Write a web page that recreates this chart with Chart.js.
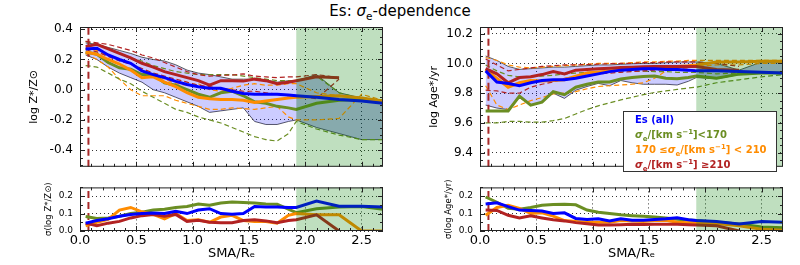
<!DOCTYPE html>
<html>
<head>
<meta charset="utf-8">
<script src="https://cdn.jsdelivr.net/npm/chart.js@4.4.1/dist/chart.umd.min.js"></script>
<style>
  body { margin: 0; background: #fff; width: 800px; height: 265px; overflow: hidden; position: relative; font-family: "DejaVu Sans"; }
  canvas { position: absolute; }
  sub, sup { font-size: 70%; line-height: 0; }
  #title { position: absolute; top: 2px; left: 0; width: 800px; text-align: center; font-size: 15px; line-height: 18px; }
  #legend { position: absolute; left: 623px; top: 111px; width: 141px; height: 59px; padding-left: 11px; border: 1px solid #333; background: #fff; font-weight: bold; font-size: 10px; line-height: 15px; white-space: nowrap; }
</style>
</head>
<body>
<div id="title">Es: <i>σ</i><sub>e</sub>-dependence</div>
<canvas id="zTop" width="400" height="181" style="left:0;top:0"></canvas>
<canvas id="zSig" width="400" height="90" style="left:0;top:175px"></canvas>
<canvas id="ageTop" width="400" height="181" style="left:400px;top:0"></canvas>
<canvas id="ageSig" width="400" height="90" style="left:400px;top:175px"></canvas>
<div id="legend">
  <div style="color:#0000ff">Es (all)</div>
  <div style="color:#6b8e23"><i>σ</i><sub>e</sub>/[km s<sup>−1</sup>]&lt;170</div>
  <div style="color:#ff8c00">170 ≤<i>σ</i><sub>e</sub>/[km s<sup>−1</sup>] &lt; 210</div>
  <div style="color:#b22222"><i>σ</i><sub>e</sub>/[km s<sup>−1</sup>] ≥210</div>
</div>
<script>
// radial bins (SMA/Re)
const sma = [0.05, 0.15, 0.25, 0.35, 0.45, 0.55, 0.65, 0.75, 0.85, 0.95, 1.05, 1.15, 1.25, 1.35, 1.45, 1.55, 1.65, 1.75, 1.85, 1.92, 2.1, 2.3, 2.5, 2.69];
const smaTicks = [0, 0.5, 1, 1.5, 2, 2.5];
const zTicks = [-0.4, -0.2, 0, 0.2, 0.4];
const ageTicks = [9.4, 9.6, 9.8, 10.0, 10.2];
const sigmaTicks = [0, 0.1, 0.2];
const psfSma = 0.075;
const spanStart = 1.92;

// log Z*/Zsun
const blueZ = [0.27, 0.275, 0.23, 0.2, 0.175, 0.125, 0.1, 0.08, 0.055, 0.035, 0.02, 0.01, 0.01, -0.01, -0.025, -0.03, -0.03, -0.03, -0.035, -0.04, -0.05, -0.065, -0.075, -0.09];
const redZ = [0.285, 0.3, 0.27, 0.24, 0.21, 0.175, 0.15, 0.12, 0.1, 0.08, 0.06, 0.03, 0.06, 0.06, 0.057, 0.07, 0.06, 0.04, 0.05, 0.06, 0.085, 0.08, null, null];
const greenZ = [0.25, 0.235, 0.18, 0.145, 0.135, 0.1, 0.1, 0.045, 0.03, 0.0, -0.03, -0.05, -0.02, -0.01, -0.04, -0.08, -0.09, -0.11, -0.12, -0.13, -0.09, -0.07, -0.065, -0.075];
const orangeZ = [0.25, 0.235, 0.2, 0.17, 0.13, 0.08, 0.085, 0.05, 0.02, -0.02, -0.05, -0.06, -0.065, -0.065, -0.07, -0.085, -0.075, -0.065, -0.055, -0.05, -0.045, -0.04, -0.055, -0.075];
const bandUpZ = [0.31, 0.3, 0.28, 0.26, 0.24, 0.215, 0.2, 0.19, 0.165, 0.13, 0.11, 0.1, 0.085, 0.07, 0.07, 0.07, 0.065, 0.05, 0.06, 0.06, 0.1, -0.02, -0.055, -0.07];
const bandLoZ = [0.23, 0.2, 0.15, 0.11, 0.08, 0.05, 0.0, -0.02, -0.05, -0.08, -0.11, -0.15, -0.14, -0.13, -0.12, -0.21, -0.23, -0.23, -0.21, -0.2, -0.25, -0.29, -0.33, -0.33];
const redDashUpZ = [0.32, 0.31, 0.3, 0.28, 0.26, 0.23, 0.21, 0.18, 0.15, 0.12, 0.1, 0.09, 0.095, 0.097, 0.105, 0.09, 0.085, 0.08, 0.085, 0.085, 0.1, 0.08, null, null];
const redDashLoZ = [0.27, 0.25, 0.22, 0.19, 0.17, 0.14, 0.11, 0.09, 0.07, 0.05, 0.03, 0.02, 0.01, 0.0, -0.01, -0.01, -0.02, -0.03, -0.04, -0.04, -0.06, 0.07, null, null];
const greenDashUpZ = [0.32, 0.3, 0.27, 0.24, 0.21, 0.19, 0.16, 0.14, 0.12, 0.11, 0.1, 0.1, 0.1, 0.1, 0.09, 0.08, 0.07, 0.06, 0.06, 0.06, 0.09, -0.02, -0.06, -0.07];
const greenDashLoZ = [0.16, 0.15, 0.11, 0.07, 0.04, -0.01, -0.05, -0.09, -0.13, -0.15, -0.18, -0.2, -0.22, -0.25, -0.28, -0.31, -0.33, -0.34, -0.29, -0.21, -0.26, -0.3, -0.33, -0.33];
const orangeDashUpZ = [0.27, 0.26, 0.22, 0.2, 0.17, 0.13, 0.1, 0.07, 0.04, 0.03, 0.04, 0.0, -0.01, 0.01, 0.03, 0.04, 0.03, 0.03, 0.04, 0.04, -0.02, -0.04, -0.05, -0.07];
const orangeDashLoZ = [0.24, 0.2, 0.15, 0.07, 0.0, -0.04, -0.04, -0.04, -0.07, -0.09, -0.11, -0.13, -0.13, -0.12, -0.125, -0.13, -0.12, -0.11, -0.18, -0.2, -0.2, -0.19, -0.03, -0.07];

// log Age*/yr
const blueAge = [9.95, 9.875, 9.865, 9.85, 9.87, 9.885, 9.89, 9.89, 9.9, 9.915, 9.93, 9.945, 9.955, 9.96, 9.965, 9.965, 9.96, 9.96, 9.955, 9.95, 9.95, 9.945, 9.94, 9.935];
const redAge = [9.965, 9.93, 9.87, 9.905, 9.91, 9.925, 9.945, 9.93, 9.955, 9.96, 9.965, 9.968, 9.972, 9.975, 9.978, 9.98, 9.98, 9.98, 9.98, 9.98, 9.96, 9.955, null, null];
const orangeAge = [9.96, 9.9, 9.84, 9.87, 9.885, 9.882, 9.885, 9.89, 9.915, 9.935, 9.943, 9.95, 9.958, 9.965, 9.968, 9.972, 9.975, 9.98, 9.985, 9.99, 10.01, 10.01, 10.015, 10.015];
const greenAge = [9.68, 9.68, 9.68, 9.78, 9.72, 9.74, 9.81, 9.79, 9.84, 9.86, 9.876, 9.876, 9.895, 9.905, 9.912, 9.915, 9.9, 9.897, 9.905, 9.915, 9.9, 9.928, 9.935, 9.935];
const bandUpAge = [10.05, 10.02, 9.98, 9.96, 9.965, 9.97, 9.975, 9.975, 9.98, 9.985, 9.99, 9.99, 9.994, 9.998, 10.0, 10.0, 10.005, 10.01, 10.01, 10.01, 10.0, 9.955, 10.01, 10.01];
const bandLoAge = [9.72, 9.7, 9.69, 9.77, 9.72, 9.74, 9.8, 9.765, 9.82, 9.845, 9.866, 9.85, 9.885, 9.87, 9.86, 9.86, 9.86, 9.855, 9.88, 9.905, 9.897, 9.925, 9.935, 9.938];
const redDashUpAge = [10.03, 9.99, 9.95, 9.96, 9.97, 9.98, 9.985, 9.99, 9.99, 9.993, 9.995, 9.998, 10.0, 10.0, 10.005, 10.005, 10.01, 10.01, 10.01, 10.01, 10.0, 9.98, null, null];
const redDashLoAge = [9.82, 9.815, 9.8, 9.8, 9.84, 9.86, 9.875, 9.9, 9.91, 9.92, 9.93, 9.935, 9.94, 9.945, 9.95, 9.955, 9.96, 9.96, 9.96, 9.955, 9.95, 9.94, null, null];
const greenDashUpAge = [9.99, 9.95, 9.92, 9.91, 9.91, 9.915, 9.92, 9.93, 9.935, 9.94, 9.945, 9.95, 9.95, 9.95, 9.948, 9.945, 9.945, 9.94, 9.94, 9.94, 9.93, 9.935, 9.94, 9.94];
const greenDashLoAge = [9.6, 9.6, 9.61, 9.61, 9.605, 9.605, 9.615, 9.63, 9.66, 9.69, 9.715, 9.735, 9.755, 9.772, 9.79, 9.805, 9.815, 9.825, 9.835, 9.84, 9.87, 9.89, 9.91, 9.925];
const orangeDashUpAge = [10.04, 10.02, 9.99, 9.975, 9.97, 9.975, 9.98, 9.985, 9.99, 9.995, 10.0, 10.0, 10.0, 10.005, 10.01, 10.01, 10.015, 10.015, 10.02, 10.02, 10.02, 10.02, 10.02, 10.02];
const orangeDashLoAge = [9.85, 9.72, 9.69, 9.72, 9.75, 9.77, 9.795, 9.8, 9.81, 9.83, 9.845, 9.85, 9.855, 9.86, 9.87, 9.9, 9.95, 9.965, 9.97, 9.98, 9.99, 9.99, 10.0, 10.0];

// scatter sigma(log Z), sigma(log Age)
const blueSZ = [0.045, 0.06, 0.07, 0.085, 0.095, 0.1, 0.103, 0.1, 0.113, 0.1, 0.12, 0.128, 0.1, 0.096, 0.1, 0.14, 0.138, 0.137, 0.135, 0.135, 0.172, 0.142, 0.142, 0.137];
const greenSZ = [0.083, 0.072, 0.075, 0.085, 0.1, 0.108, 0.12, 0.125, 0.135, 0.14, 0.155, 0.148, 0.16, 0.166, 0.163, 0.16, 0.155, 0.153, 0.125, 0.105, 0.128, 0.137, 0.141, 0.125];
const orangeSZ = [0.03, 0.05, 0.066, 0.12, 0.135, 0.11, 0.095, 0.07, 0.1, 0.06, 0.065, 0.05, 0.08, 0.09, 0.06, 0.055, 0.055, 0.045, 0.09, 0.1, 0.093, 0.093, 0.0, 0.0];
const redSZ = [0.045, 0.03, 0.045, 0.055, 0.075, 0.088, 0.095, 0.085, 0.095, 0.055, 0.062, 0.05, 0.047, 0.047, 0.06, 0.064, 0.058, 0.047, 0.06, 0.065, 0.093, 0.0, null, null];
const blueSA = [0.155, 0.162, 0.14, 0.12, 0.118, 0.115, 0.1, 0.104, 0.072, 0.066, 0.07, 0.058, 0.07, 0.062, 0.062, 0.066, 0.07, 0.076, 0.065, 0.06, 0.055, 0.04, 0.055, 0.05];
const greenSA = [0.195, 0.165, 0.13, 0.125, 0.135, 0.148, 0.152, 0.153, 0.15, 0.12, 0.108, 0.1, 0.093, 0.088, 0.084, 0.08, 0.075, 0.068, 0.063, 0.06, 0.05, 0.04, 0.023, 0.018];
const orangeSA = [0.09, 0.135, 0.148, 0.13, 0.1, 0.104, 0.085, 0.06, 0.055, 0.05, 0.05, 0.05, 0.06, 0.058, 0.055, 0.06, 0.062, 0.05, 0.048, 0.047, 0.043, 0.03, 0.01, 0.005];
const redSA = [0.12, 0.118, 0.09, 0.075, 0.087, 0.075, 0.064, 0.058, 0.048, 0.042, 0.035, 0.034, 0.036, 0.039, 0.037, 0.038, 0.039, 0.038, 0.036, 0.035, 0.03, 0.0, null, null];

const BLUE = "#0000ff", GREEN = "#6b8e23", ORANGE = "#ff8c00", RED = "#b22222";
const X_MAX = 2.69;

Chart.defaults.font.family = "DejaVu Sans";
Chart.defaults.color = "#000";
Chart.defaults.animation = false;

function pts(ys) {
  return sma.map((x, i) => ({ x, y: ys[i] }));
}
// same points, only where the bin is inside the shaded outer region
function outerPts(ys) {
  return sma.map((x, i) => ({ x, y: x >= spanStart ? ys[i] : null }));
}
function solid(ys, color, order) {
  return { data: pts(ys), borderColor: color, borderWidth: 3, pointRadius: 0, fill: false, order };
}
function dashed(ys, color) {
  return { data: pts(ys), borderColor: color, borderWidth: 1.2, borderDash: [5, 3], pointRadius: 0, fill: false, order: 8 };
}
function psfLine(yMin, yMax) {
  return {
    data: [{ x: psfSma, y: yMin }, { x: psfSma, y: yMax }],
    borderColor: "#a82828", borderWidth: 2, borderDash: [7, 4], pointRadius: 0, fill: false, order: 6,
  };
}

// green span, frame and inward ticks (matplotlib look)
const frameAndSpan = {
  id: "frameAndSpan",
  afterDatasetsDraw(chart, args, o) {
    const { ctx, chartArea: a, scales: { x, y } } = chart;
    ctx.save();
    const x0 = x.getPixelForValue(spanStart);
    ctx.fillStyle = "rgba(0,128,0,0.25)";
    ctx.fillRect(x0, a.top, a.right - x0, a.bottom - a.top);

    ctx.strokeStyle = "#222";
    ctx.lineWidth = 1;
    ctx.beginPath();
    for (let i = 0; i * o.xMinor <= x.max + 1e-9; i++) {
      const len = i % o.xEvery === 0 ? 5 : 3;
      const px = Math.round(x.getPixelForValue(i * o.xMinor)) + 0.5;
      ctx.moveTo(px, a.bottom); ctx.lineTo(px, a.bottom - len);
      ctx.moveTo(px, a.top); ctx.lineTo(px, a.top + len);
    }
    for (let i = Math.ceil(y.min / o.yMinor - 1e-6); i * o.yMinor <= y.max + 1e-9; i++) {
      const len = ((i % o.yEvery) + o.yEvery) % o.yEvery === 0 ? 5 : 3;
      const py = Math.round(y.getPixelForValue(i * o.yMinor)) + 0.5;
      ctx.moveTo(a.left, py); ctx.lineTo(a.left + len, py);
      ctx.moveTo(a.right, py); ctx.lineTo(a.right - len, py);
    }
    ctx.stroke();
    ctx.strokeRect(a.left + 0.5, a.top + 0.5, a.width - 1, a.height - 1);
    ctx.restore();
  },
};

function makeChart(id, cfg) {
  const isTop = cfg.top;
  const xAxis = {
    type: "linear", min: 0, max: X_MAX,
    afterBuildTicks: (s) => { s.ticks = smaTicks.map((v) => ({ value: v })); },
    afterFit: (s) => { s.height = isTop ? 0 : 34; },
    ticks: { display: !isTop, font: { size: 13 }, padding: 2, maxRotation: 0, autoSkip: false, callback: (v) => v.toFixed(1) },
    grid: { color: "#000", lineWidth: 0.8, drawTicks: false },
    border: { display: false, dash: [1, 3] },
    title: { display: !isTop, text: "SMA/Rₑ", font: { size: 13 }, padding: { top: 0, bottom: 4 } },
  };
  const yAxis = {
    type: "linear", min: cfg.yMin, max: cfg.yMax,
    afterBuildTicks: (s) => { s.ticks = cfg.yTicks.map((v) => ({ value: v })); },
    afterFit: (s) => { s.width = 80; },
    ticks: { font: { size: isTop ? 12 : 9 }, padding: 7, callback: (v) => v.toFixed(1) },
    grid: { color: "#000", lineWidth: 0.8, drawTicks: false },
    border: { display: false, dash: [1, 3] },
    title: {
      display: true, text: cfg.yTitle, font: { size: isTop ? 11 : 8.5 },
      padding: { top: isTop ? 28 : 44, bottom: 0 },
    },
  };
  return new Chart(document.getElementById(id), {
    type: "line",
    data: { datasets: cfg.datasets },
    options: {
      responsive: false,
      layout: { padding: isTop ? { left: 0, top: 27, right: 17, bottom: 2 } : { left: 0, top: 5, right: 17, bottom: 0 } },
      scales: { x: xAxis, y: yAxis },
      plugins: {
        legend: { display: false },
        tooltip: { enabled: false },
        frameAndSpan: { xMinor: 0.1, xEvery: 5, yMinor: 0.05, yEvery: isTop ? 4 : 2 },
      },
    },
    plugins: [frameAndSpan],
  });
}

// spread band; the outer part gets an extra darker tint as in the figure
function bandSets(up, lo) {
  return [
    { data: pts(up), borderColor: "#333", borderWidth: 0.8, pointRadius: 0, fill: "+1", backgroundColor: "rgba(0,0,255,0.2)", order: 11 },
    { data: pts(lo), borderColor: "#333", borderWidth: 0.8, pointRadius: 0, fill: false, order: 11 },
    { data: outerPts(up), borderWidth: 0, pointRadius: 0, fill: "+1", backgroundColor: "rgba(0,30,60,0.12)", order: 10 },
    { data: outerPts(lo), borderWidth: 0, pointRadius: 0, fill: false, order: 10 },
  ];
}

makeChart("zTop", {
  top: true, yMin: -0.51, yMax: 0.415, yTicks: zTicks, yTitle: "log Z*/Z⊙",
  datasets: [
    ...bandSets(bandUpZ, bandLoZ),
    dashed(redDashUpZ, RED), dashed(redDashLoZ, RED),
    dashed(greenDashUpZ, GREEN), dashed(greenDashLoZ, GREEN),
    dashed(orangeDashUpZ, ORANGE), dashed(orangeDashLoZ, ORANGE),
    psfLine(-0.51, 0.415),
    solid(greenZ, GREEN, 4), solid(orangeZ, ORANGE, 3), solid(redZ, RED, 2), solid(blueZ, BLUE, 1),
  ],
});

makeChart("zSig", {
  top: false, yMin: 0, yMax: 0.25, yTicks: sigmaTicks, yTitle: "σ(log Z*/Z⊙)",
  datasets: [
    psfLine(0, 0.25),
    solid(greenSZ, GREEN, 4), solid(orangeSZ, ORANGE, 3), solid(redSZ, RED, 2), solid(blueSZ, BLUE, 1),
  ],
});

makeChart("ageTop", {
  top: true, yMin: 9.305, yMax: 10.245, yTicks: ageTicks, yTitle: "log Age*/yr",
  datasets: [
    ...bandSets(bandUpAge, bandLoAge),
    dashed(redDashUpAge, RED), dashed(redDashLoAge, RED),
    dashed(greenDashUpAge, GREEN), dashed(greenDashLoAge, GREEN),
    dashed(orangeDashUpAge, ORANGE), dashed(orangeDashLoAge, ORANGE),
    psfLine(9.305, 10.245),
    solid(greenAge, GREEN, 4), solid(orangeAge, ORANGE, 3), solid(redAge, RED, 2), solid(blueAge, BLUE, 1),
  ],
});

makeChart("ageSig", {
  top: false, yMin: 0, yMax: 0.25, yTicks: sigmaTicks, yTitle: "σ(log Age*/yr)",
  datasets: [
    psfLine(0, 0.25),
    solid(greenSA, GREEN, 4), solid(orangeSA, ORANGE, 3), solid(redSA, RED, 2), solid(blueSA, BLUE, 1),
  ],
});
</script>
</body>
</html>
